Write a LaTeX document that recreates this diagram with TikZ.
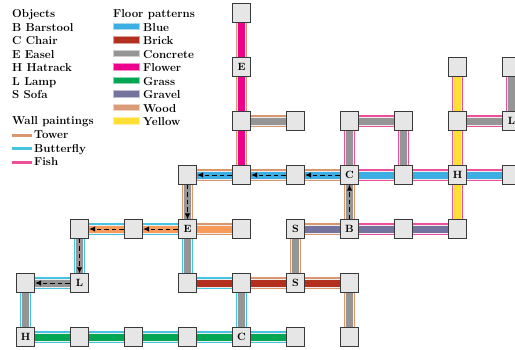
\documentclass[tikz,border=0pt]{standalone}
\usetikzlibrary{arrows.meta}
\pgfdeclarelayer{background}
\pgfsetlayers{background,main}
\definecolor{cBlue}{HTML}{3DAEE3}
\definecolor{cBrick}{HTML}{B3301F}
\definecolor{cConcrete}{HTML}{959595}
\definecolor{cFlower}{HTML}{EC008C}
\definecolor{cGrass}{HTML}{00A651}
\definecolor{cGravel}{HTML}{73739D}
\definecolor{cWood}{HTML}{DA9C78}
\definecolor{cOrange}{HTML}{F89A5A}
\definecolor{cYellow}{HTML}{FFDE35}
\definecolor{wTower}{HTML}{D9976E}
\definecolor{wButterfly}{HTML}{45C3E0}
\definecolor{wFish}{HTML}{EE4F9B}
\definecolor{nodefill}{HTML}{E6E6E6}
\definecolor{nodeline}{HTML}{3A3A3A}
\definecolor{gapcol}{HTML}{EEEEEE}
\begin{document}
\begin{tikzpicture}[x=1pt,y=-1pt,
  room/.style={draw=nodeline, fill=nodefill, line width=0.8pt, minimum size=18.5pt, inner sep=0pt, font=\bfseries\fontsize{10.5}{12}\selectfont},
  legtext/.style={anchor=base west, inner sep=0pt, font=\bfseries\fontsize{11.5}{13}\selectfont},
  swatch/.style={line width=0.8pt},
  walk/.style={draw=black, line width=1pt, dash pattern=on 4.5pt off 3pt, -{Latex[length=6pt,width=5.5pt]}}
]
\useasboundingbox (0,0) rectangle (515,349);

% legend: objects
\node[legtext] (lo) at (12,17.5) {Objects};
\node[legtext] (lo1) at (12,31) {B Barstool};
\node[legtext] (lo2) at (12,44.5) {C Chair};
\node[legtext] (lo3) at (12,58) {E Easel};
\node[legtext] (lo4) at (12,71.5) {H Hatrack};
\node[legtext] (lo5) at (12,85) {L Lamp};
\node[legtext] (lo6) at (12,98.5) {S Sofa};
% legend: wall paintings
\node[legtext] (lw) at (12,124) {Wall paintings};
\foreach \c/\t/\y [count=\i] in {wTower/Tower/138.5, wButterfly/Butterfly/152, wFish/Fish/165.5}{
  \node[legtext] (lw\i) at (34,\y) {\t};
  \draw[\c, line width=3pt] (12,\y-3.5) -- (32,\y-3.5);
}
% legend: floor patterns
\node[legtext] (lf) at (113,17.5) {Floor patterns};
\foreach \c/\t/\y [count=\i] in {cBlue/Blue/31, cBrick/Brick/44.5, cConcrete/Concrete/58, cFlower/Flower/71.5, cGrass/Grass/85, cGravel/Gravel/98.5, cWood/Wood/112, cYellow/Yellow/125.5}{
  \node[legtext] (lf\i) at (143,\y) {\t};
  \draw[swatch, fill=\c, draw=\c!45!white] (113.5,\y-8) rectangle (139,\y-1.5);
}

% rooms
\foreach \n/\i/\j/\l in {
  n40/4/0/, n41/4/1/E, n81/8/1/, n91/9/1/,
  n42/4/2/, n52/5/2/, n62/6/2/, n72/7/2/, n82/8/2/, n92/9/2/L,
  n33/3/3/, n43/4/3/, n53/5/3/, n63/6/3/C, n73/7/3/, n83/8/3/H, n93/9/3/,
  n14/1/4/, n24/2/4/, n34/3/4/E, n44/4/4/, n54/5/4/S, n64/6/4/B, n74/7/4/, n84/8/4/,
  n05/0/5/, n15/1/5/L, n35/3/5/, n45/4/5/, n55/5/5/S, n65/6/5/,
  n06/0/6/H, n16/1/6/, n26/2/6/, n36/3/6/, n46/4/6/C, n56/5/6/, n66/6/6/}{
  \node[room] (\n) at (25.5+54*\i, 13+54*\j) {\l};
}

% corridors
\begin{pgfonlayer}{background}
\foreach \a/\b/\f/\w in {
  n40/n41/cFlower/wTower, n41/n42/cFlower/wTower, n42/n52/cConcrete/wTower, n42/n43/cFlower/wTower,
  n33/n43/cBlue/wTower, n43/n53/cBlue/wTower, n53/n63/cBlue/wTower,
  n62/n63/cConcrete/wFish, n62/n72/cConcrete/wFish, n72/n73/cConcrete/wFish,
  n63/n73/cBlue/wFish, n73/n83/cBlue/wFish, n83/n93/cBlue/wFish,
  n81/n82/cYellow/wFish, n82/n83/cYellow/wFish, n83/n84/cYellow/wFish,
  n82/n92/cConcrete/wFish, n91/n92/cConcrete/wFish,
  n63/n64/cConcrete/wTower, n64/n74/cGravel/wFish, n74/n84/cGravel/wFish,
  n54/n64/cGravel/wTower, n54/n55/cConcrete/wTower,
  n33/n34/cConcrete/wTower, n34/n44/cOrange/wTower,
  n34/n35/cConcrete/wButterfly, n35/n45/cBrick/wButterfly,
  n45/n55/cBrick/wTower, n55/n65/cBrick/wTower, n65/n66/cConcrete/wTower,
  n45/n46/cConcrete/wButterfly,
  n06/n16/cGrass/wButterfly, n16/n26/cGrass/wButterfly, n26/n36/cGrass/wButterfly,
  n36/n46/cGrass/wButterfly, n46/n56/cGrass/wButterfly,
  n05/n06/cConcrete/wButterfly, n05/n15/cConcrete/wButterfly, n14/n15/cConcrete/wButterfly,
  n14/n24/cOrange/wButterfly, n24/n34/cOrange/wButterfly}{
  \draw[\w, line width=11.5pt] (\a) -- (\b);
  \draw[gapcol, line width=9pt] (\a) -- (\b);
  \draw[\f, line width=7pt] (\a) -- (\b);
}
\end{pgfonlayer}

% walk
\foreach \a/\b in {n63/n53, n53/n43, n43/n33, n64/n63, n33/n34, n34/n24, n24/n14, n14/n15, n15/n05}{
  \draw[walk] (\a) -- (\b);
}
\end{tikzpicture}
\end{document}
